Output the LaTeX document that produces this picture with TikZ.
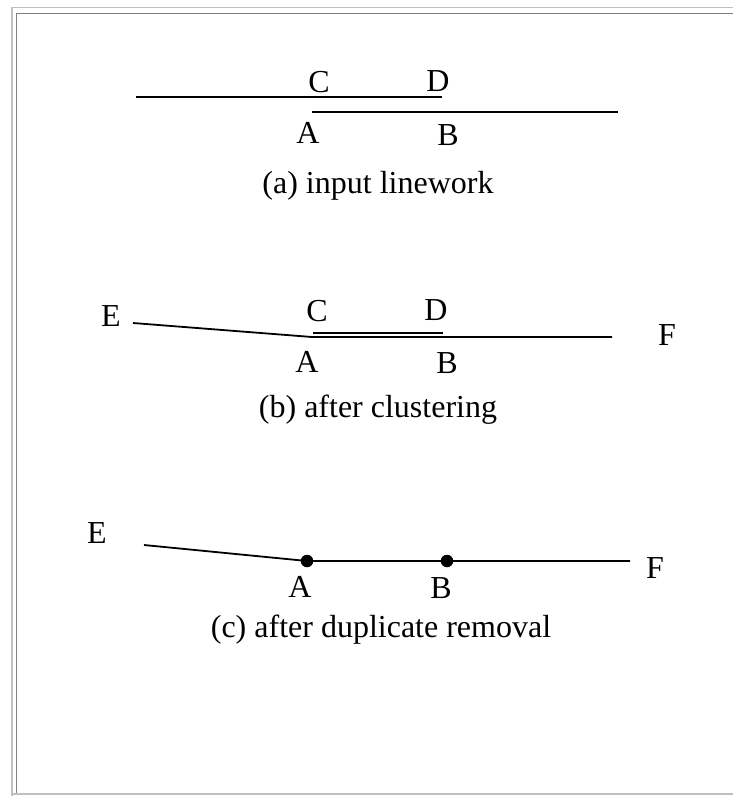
\documentclass[tikz,border=0pt]{standalone}
\usepackage{fontspec}
\setmainfont{Liberation Serif}
\definecolor{framelight}{HTML}{C0C0C0}
\definecolor{framedark}{HTML}{808080}
\begin{document}
\begin{tikzpicture}[x=1pt,y=-1pt,
  lbl/.style={inner sep=0pt,anchor=base,font=\fontsize{32}{38}\selectfont},
  captxt/.style={inner sep=0pt,anchor=base,font=\fontsize{32}{38}\selectfont},
  seg/.style={line width=1.8pt,black},
  vdot/.style={circle,fill=black,inner sep=0pt,minimum size=12.5pt}]
\useasboundingbox (0,0) rectangle (733,796);
\fill[white] (0,0) rectangle (733,796);
% frame
\draw[framelight,line width=1.7pt] (733,7.5) -- (12,7.5) -- (12,796);
\draw[framelight,line width=1.7pt] (12,794) -- (733,794);
\draw[framedark,line width=1.7pt] (733,13.5) -- (16.5,13.5) -- (16.5,793);
% (a) input linework
\coordinate (a1) at (136,97);
\coordinate (a2) at (442,97);
\coordinate (a3) at (312,112);
\coordinate (a4) at (618,112);
\draw[seg] (a1) -- (a2);
\draw[seg] (a3) -- (a4);
\node[lbl] (aC) at (319,92) {C};
\node[lbl] (aD) at (438,91) {D};
\node[lbl] (aA) at (308,143) {A};
\node[lbl] (aB) at (448,145) {B};
\node[captxt] (capa) at (378,193) {(a) input linework};
% (b) after clustering
\coordinate (bE) at (133,323);
\coordinate (bA) at (312,337);
\coordinate (bF) at (612,337);
\coordinate (bC) at (313,333);
\coordinate (bD) at (443,333);
\draw[seg] (bE) -- (bA) -- (bF);
\draw[seg] (bC) -- (bD);
\node[lbl] (lbE) at (111,326) {E};
\node[lbl] (lbC) at (317,321) {C};
\node[lbl] (lbD) at (436,320) {D};
\node[lbl] (lbF) at (667,345) {F};
\node[lbl] (lbA) at (307,372) {A};
\node[lbl] (lbB) at (447,373) {B};
\node[captxt] (capb) at (378,417) {(b) after clustering};
% (c) after duplicate removal
\coordinate (cE) at (144,545);
\node[vdot] (cA) at (307,561) {};
\node[vdot] (cB) at (447,561) {};
\coordinate (cF) at (630,561);
\draw[seg] (cE) -- (cA.center) -- (cB.center) -- (cF);
\node[lbl] (lcE) at (97,543) {E};
\node[lbl] (lcA) at (300,597) {A};
\node[lbl] (lcB) at (441,598) {B};
\node[lbl] (lcF) at (655,578) {F};
\node[captxt] (capc) at (381,637) {(c) after duplicate removal};
\end{tikzpicture}
\end{document}
